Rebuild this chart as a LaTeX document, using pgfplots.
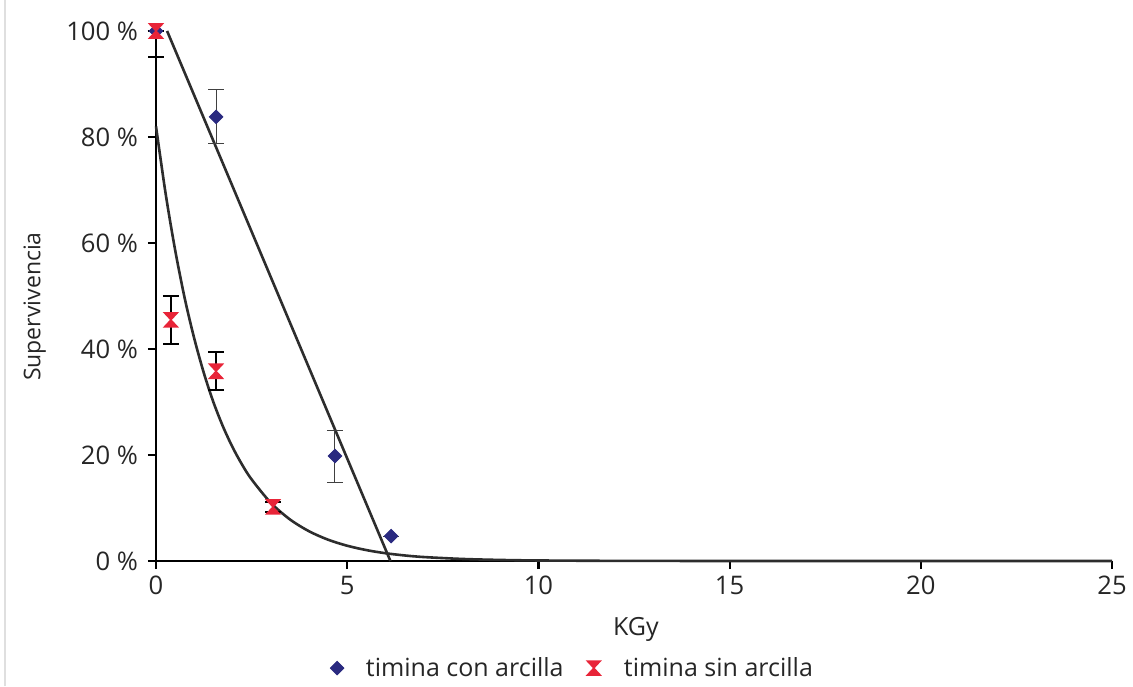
\documentclass[border=0pt]{standalone}
\usepackage{fontspec}
\setmainfont{Open Sans}
\usepackage{pgfplots}
\pgfplotsset{compat=1.18}

\definecolor{conarc}{RGB}{42,42,128}
\definecolor{sinarc}{RGB}{232,36,56}
\definecolor{fitline}{RGB}{45,45,45}

% hourglass marker: two triangles meeting at the centre
\pgfdeclareplotmark{hourglass}{%
  \pgfpathmoveto{\pgfqpoint{-1.05\pgfplotmarksize}{\pgfplotmarksize}}%
  \pgfpathlineto{\pgfqpoint{1.05\pgfplotmarksize}{\pgfplotmarksize}}%
  \pgfpathlineto{\pgfqpoint{0.12\pgfplotmarksize}{0pt}}%
  \pgfpathlineto{\pgfqpoint{1.05\pgfplotmarksize}{-\pgfplotmarksize}}%
  \pgfpathlineto{\pgfqpoint{-1.05\pgfplotmarksize}{-\pgfplotmarksize}}%
  \pgfpathlineto{\pgfqpoint{-0.12\pgfplotmarksize}{0pt}}%
  \pgfpathclose
  \pgfusepathqfill
}

\begin{document}
\begin{tikzpicture}
\path[use as bounding box] (-78pt,-62.5pt) rectangle (488.5pt,280.5pt);
\draw[gray!25, line width=0.6pt] (-75.5pt,-62.5pt) -- (-75.5pt,280.5pt);
\begin{axis}[
  at={(0,0)}, anchor=south west,
  scale only axis, width=478pt, height=265pt,
  xmin=0, xmax=25, ymin=0, ymax=100,
  axis lines=left, axis line style={line width=1.3pt, -},
  tick align=outside, major tick length=4pt,
  tick style={line width=1.1pt, black},
  xtick={0,5,10,15,20,25},
  xticklabels={0,5,10,15,20,25},
  ytick={0,20,40,60,80,100},
  yticklabels={0 \%,20 \%,40 \%,60 \%,80 \%,100 \%},
  ticklabel style={font=\fontsize{12.8}{14}\selectfont, text=black!85},
  yticklabel style={xshift=-1.5pt},
  xlabel={KGy}, ylabel={Supervivencia},
  every axis x label/.style={at={(axis description cs:0.502,-0.13)}, anchor=center,
    font=\fontsize{12.5}{14}\selectfont, text=black!85},
  every axis y label/.style={at={(axis description cs:-0.127,0.48)}, anchor=center, rotate=90,
    font=\fontsize{11.5}{14}\selectfont, text=black!85},
  legend style={at={(axis description cs:0.44,-0.202)}, anchor=center, draw=none,
    font=\fontsize{12.5}{14}\selectfont, text=black!85, column sep=6pt,
    nodes={inner xsep=5pt}},
  legend columns=2,
  legend cell align=left,
  clip=false,
]
% linear fit, with clay
\addplot[fitline, line width=1.3pt, forget plot] coordinates {(0.29,100) (6.13,0)};
% exponential fit, without clay
\addplot[fitline, line width=1.3pt, forget plot, smooth] coordinates {
 (0,82) (0.25,69.4) (0.5,58.7) (0.75,49.6) (1.0,42.0) (1.25,35.5) (1.5,30.0)
 (1.75,25.4) (2.0,21.5) (2.25,18.2) (2.5,15.4) (3.0,11.0) (3.5,7.86) (4.0,5.62)
 (4.5,4.02) (5.0,2.88) (5.5,2.06) (6.0,1.47) (6.5,1.05) (7,0.75) (8,0.39)
 (9,0.20) (10,0.10) (12,0.03) (15,0.004) (20,0) (25,0)};
% timina con arcilla
\addplot[only marks, mark=square*, mark size=2.4pt,
  mark options={rotate=45, fill=conarc, draw=conarc},
  error bars/.cd, y dir=both, y explicit,
  error bar style={line width=0.5pt, black!75},
  error mark options={rotate=90, line width=0.5pt, black!75, mark size=4pt}]
  coordinates {
  (0,100) +- (0,0)
  (1.57,83.8) +- (0,5.1)
  (4.68,19.8) +- (0,4.9)
  (6.15,4.7) +- (0,0)
};
\addlegendentry{timina con arcilla}
% timina sin arcilla
\addplot[only marks, mark=hourglass, mark size=3.9pt,
  mark options={fill=sinarc, draw=sinarc},
  error bars/.cd, y dir=both, y explicit,
  error bar style={line width=1pt, black},
  error mark options={rotate=90, line width=1pt, black, mark size=4pt}]
  coordinates {
  (0,100) += (0,0) -= (0,5)
  (0.39,45.5) +- (0,4.5)
  (1.57,35.8) +- (0,3.6)
  (3.06,10.2) +- (0,1)
};
\addlegendentry{timina sin arcilla}
\end{axis}
\end{tikzpicture}
\end{document}
